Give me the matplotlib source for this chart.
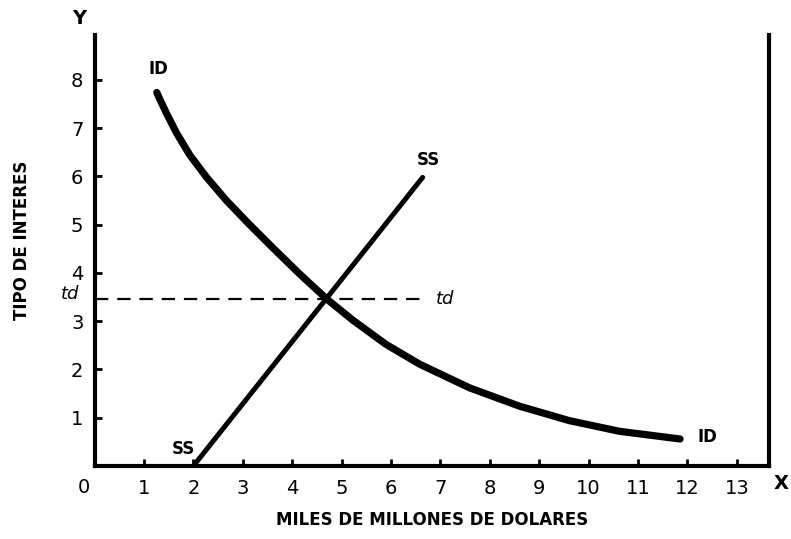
import matplotlib
matplotlib.use("Agg")
import matplotlib.pyplot as plt

# Demand for investment (ID) and supply of savings (SS)
id_x = [1.26, 1.34, 1.46, 1.66, 1.93, 2.27, 2.67, 3.14, 3.61, 4.15, 4.70,
        5.23, 5.90, 6.58, 7.59, 8.60, 9.61, 10.62, 11.85]
id_y = [7.74, 7.56, 7.30, 6.90, 6.44, 5.98, 5.50, 5.00, 4.52, 3.98, 3.46,
        3.02, 2.52, 2.11, 1.62, 1.24, 0.94, 0.72, 0.56]

ss_x = [2.0, 6.64]
ss_y = [0.0, 5.98]

td_level = 3.47
td_end = 6.7

x_ticks = list(range(1, 14))
y_ticks = list(range(1, 9))

fig = plt.figure(figsize=(7.91, 5.39), dpi=100)
ax = fig.add_axes([0.1195, 0.1354, 0.8527, 0.7996])
ax.set_xlim(0, 13.65)
ax.set_ylim(0, 8.93)

ax.plot(id_x, id_y, color="black", linewidth=5.2, solid_capstyle="round",
        solid_joinstyle="round")
ax.plot(ss_x, ss_y, color="black", linewidth=3.6, solid_capstyle="round")
ax.plot([0, td_end], [td_level, td_level], color="black", linewidth=1.6,
        linestyle=(0, (6, 4)))

# curve labels
lab = dict(fontsize=12, fontweight="bold", color="black")
ax.text(1.3, 8.05, "ID", ha="center", va="bottom", **lab)
ax.text(6.75, 6.15, "SS", ha="center", va="bottom", **lab)
ax.text(1.8, 0.35, "SS", ha="center", va="center", **lab)
ax.text(12.2, 0.6, "ID", ha="left", va="center", **lab)
ax.text(6.9, td_level, "td", ha="left", va="center", fontsize=13,
        style="italic", color="black")
ax.text(-0.3, td_level + 0.1, "td", ha="right", va="center", fontsize=13,
        style="italic", color="black", clip_on=False)

for side in ["left", "bottom", "right"]:
    ax.spines[side].set_linewidth(3)
ax.spines["top"].set_visible(False)

ax.set_xticks(x_ticks)
ax.set_yticks(y_ticks)
ax.tick_params(direction="in", length=5, width=2, labelsize=14)
ax.tick_params(axis="x", pad=9)
ax.tick_params(axis="y", pad=8)

ax.text(-0.22, -0.45, "0", ha="center", va="center", fontsize=14, clip_on=False)
ax.text(-0.3, 9.28, "Y", ha="center", va="center", fontsize=14,
        fontweight="bold", clip_on=False)
ax.text(13.9, -0.36, "X", ha="center", va="center", fontsize=14,
        fontweight="bold", clip_on=False)

fig.text(0.028, 0.555, "TIPO DE INTERES", rotation=90, ha="center", va="center",
         fontsize=12, fontweight="bold")
fig.text(0.546, 0.035, "MILES DE MILLONES DE DOLARES", ha="center", va="center",
         fontsize=12, fontweight="bold")

fig.savefig("out.png", dpi=100)
